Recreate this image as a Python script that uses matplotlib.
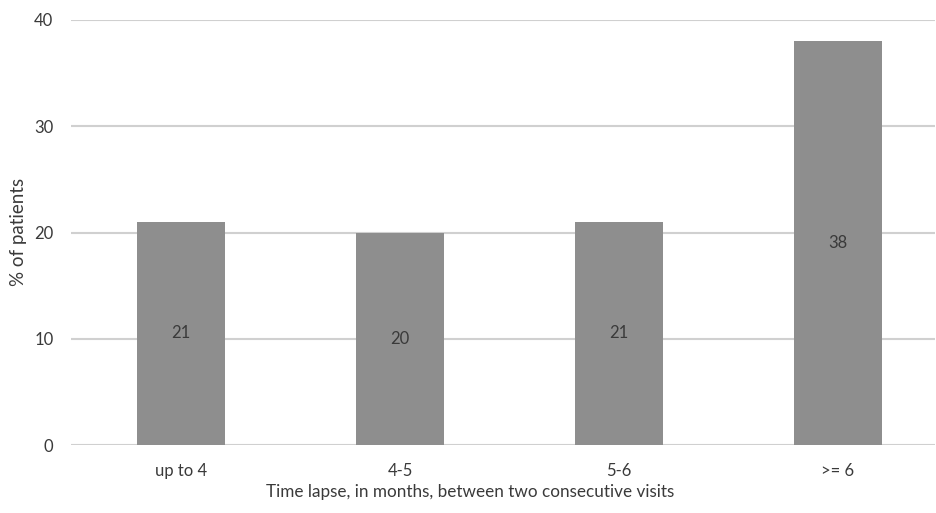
import matplotlib
matplotlib.use("Agg")
import matplotlib.pyplot as plt

categories = ["up to 4", "4-5", "5-6", ">= 6"]
percent = [21, 20, 21, 38]
yticks = [0, 10, 20, 30, 40]

plt.rcParams["font.family"] = ["Lato", "DejaVu Sans"]
text_color = "#3a3a3a"

fig = plt.figure(figsize=(9.37, 5.13), dpi=100)
ax_left, ax_right = 71.5, 935
ax = fig.add_axes([ax_left / 937, 68 / 513, (ax_right - ax_left) / 937, 425 / 513])

x = range(len(categories))
bars = ax.bar(x, percent, width=0.4, color="#8e8e8e", zorder=3)
ax.bar_label(bars, labels=[str(v) for v in percent], label_type="center",
             fontsize=12, color=text_color)

ax.set_xlim(-0.5, (ax_right - ax_left) / 219 - 0.5)
ax.set_ylim(0, 40)
ax.set_yticks(yticks)
ax.set_xticks(list(x))
ax.set_xticklabels(categories)
ax.tick_params(axis="both", length=0, labelsize=12, colors=text_color)
ax.tick_params(axis="x", pad=13)
ax.tick_params(axis="y", pad=13)
ax.grid(axis="y", color="#d0d0d0", linewidth=1.5, zorder=0)
ax.set_axisbelow(True)
for sp in ax.spines.values():
    sp.set_visible(False)

ax.set_xlabel("Time lapse, in months, between two consecutive visits",
              fontsize=12.3, color=text_color)
ax.xaxis.set_label_coords((470 - ax_left) / (ax_right - ax_left), -39 / 425)
ax.set_ylabel("% of patients", fontsize=13.5, color=text_color)
ax.yaxis.set_label_coords(-44 / (ax_right - ax_left), 0.5 + (445 - 232 - 212.5) / 425)

fig.savefig("out.png", dpi=100)
